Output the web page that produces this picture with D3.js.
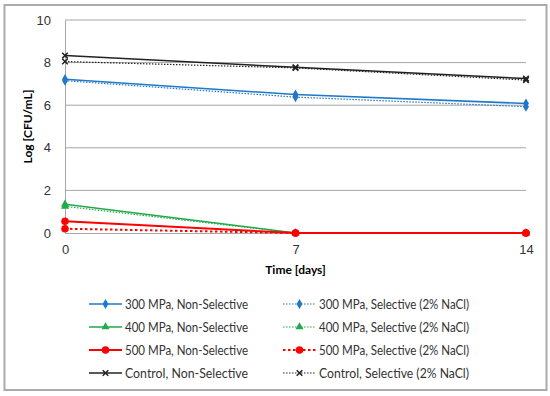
<!DOCTYPE html>
<html>
<head>
<meta charset="utf-8">
<style>
  body { margin: 0; background: #fff; }
  svg { font-family: Lato, "Open Sans", sans-serif; }
</style>
</head>
<body>
<script src="https://d3js.org/d3.v7.min.js"></script>
<script>
// data
const days = [0, 7, 14];
const yTicks = [0, 2, 4, 6, 8, 10];

const s300NS = [7.22, 6.5, 6.08];
const s300S = [7.15, 6.38, 5.93];
const s400NS = [1.35, 0, 0];
const s400S = [1.25, 0, 0];
const s500NS = [0.55, 0, 0];
const s500S = [0.2, 0, 0];
const ctrlNS = [8.33, 7.78, 7.25];
const ctrlS = [8.05, 7.75, 7.18];

const series = [
  { name: "300 MPa, Non-Selective", values: s300NS, color: "#1f78c8", dash: null, sym: "diamond", w: 1.5 },
  { name: "300 MPa, Selective (2% NaCl)", values: s300S, color: "#1f78c8", dash: "1.5,1.5", sym: "diamond", w: 1.2 },
  { name: "400 MPa, Non-Selective", values: s400NS, color: "#22aa4a", dash: null, sym: "triangle", w: 1.5 },
  { name: "400 MPa, Selective (2% NaCl)", values: s400S, color: "#22aa4a", dash: "1.5,1.5", sym: "triangle", w: 1.2 },
  { name: "500 MPa, Non-Selective", values: s500NS, color: "#ff0000", dash: null, sym: "circle", w: 2 },
  { name: "500 MPa, Selective (2% NaCl)", values: s500S, color: "#ff0000", dash: "2.5,2.5", sym: "circle", w: 2 },
  { name: "Control, Non-Selective", values: ctrlNS, color: "#222", dash: null, sym: "cross", w: 1.5 },
  { name: "Control, Selective (2% NaCl)", values: ctrlS, color: "#222", dash: "1.5,1.5", sym: "cross", w: 1.2 }
];

const width = 550, height = 396;
const svg = d3.select("body").append("svg")
  .attr("width", width).attr("height", height);

// outer frame
svg.append("rect")
  .attr("x", 4.5).attr("y", 5).attr("width", 542).attr("height", 385)
  .attr("fill", "#fff").attr("stroke", "#ababab").attr("stroke-width", 2);

const x = d3.scaleLinear().domain([0, 14]).range([65, 526]);
const y = d3.scaleLinear().domain([0, 10]).range([233, 20]);

// grid lines
svg.append("g").selectAll("line")
  .data(yTicks.filter(d => d > 0))
  .join("line")
  .attr("x1", x(0)).attr("x2", x(14))
  .attr("y1", d => y(d)).attr("y2", d => y(d))
  .attr("stroke", "#a6a6a6").attr("stroke-width", 1);

// y axis
const yAxis = svg.append("g").attr("transform", `translate(${x(0)},0)`)
  .call(d3.axisLeft(y).tickValues(yTicks).tickSize(0).tickPadding(14));
yAxis.select(".domain").attr("stroke", "#a6a6a6");
yAxis.selectAll("text").attr("font-size", 13).attr("fill", "#333");

// x axis
const xAxis = svg.append("g").attr("transform", `translate(0,${y(0)})`)
  .call(d3.axisBottom(x).tickValues(days).tickSize(0).tickPadding(12));
xAxis.select(".domain").attr("stroke", "#a6a6a6");
xAxis.selectAll("text").attr("font-size", 13).attr("fill", "#333");

// axis titles
svg.append("text").attr("x", x(7)).attr("y", 274)
  .attr("text-anchor", "middle").attr("font-size", 12).attr("font-weight", "bold")
  .text("Time [days]");
svg.append("text")
  .attr("transform", `translate(32,${y(5)}) rotate(-90)`)
  .attr("text-anchor", "middle").attr("font-size", 12).attr("font-weight", "bold")
  .text("Log [CFU/mL]");

const symType = { diamond: d3.symbolDiamond, triangle: d3.symbolTriangle, circle: d3.symbolCircle, cross: d3.symbolX };
const symSize = { diamond: 30, triangle: 28, circle: 45, cross: 22 };

function drawSymbol(g, s, cx, cy) {
  const p = g.append("path")
    .attr("d", d3.symbol().type(symType[s.sym]).size(symSize[s.sym])())
    .attr("transform", `translate(${cx},${cy})`);
  if (s.sym === "cross") p.attr("fill", "none").attr("stroke", s.color).attr("stroke-width", 1.5);
  else p.attr("fill", s.color);
}

const line = d3.line().x((d, i) => x(days[i])).y(d => y(d));

// series drawn in order, later ones on top (as in the reference)
const plot = svg.append("g");
series.forEach(s => {
  plot.append("path")
    .attr("d", line(s.values))
    .attr("fill", "none")
    .attr("stroke", s.color)
    .attr("stroke-width", s.w)
    .attr("stroke-dasharray", s.dash);
  s.values.forEach((v, i) => drawSymbol(plot, s, x(days[i]), y(v)));
});

// legend
const legend = svg.append("g");
series.forEach((s, i) => {
  const col = i % 2, row = Math.floor(i / 2);
  const lx = col === 0 ? 89 : 283;
  const ly = 304 + row * 23;
  const g = legend.append("g");
  g.append("line")
    .attr("x1", lx).attr("x2", lx + 33)
    .attr("y1", ly).attr("y2", ly)
    .attr("stroke", s.color).attr("stroke-width", s.w)
    .attr("stroke-dasharray", s.dash);
  drawSymbol(g, s, lx + 16.5, ly);
  g.append("text")
    .attr("x", lx + 36).attr("y", ly + 4.5)
    .attr("font-size", 12.5).attr("fill", "#333")
    .attr("textLength", col === 0 ? 123 * s.name.length / 22 : 150 * s.name.length / 28)
    .attr("lengthAdjust", "spacingAndGlyphs")
    .text(s.name);
});
</script>
</body>
</html>
